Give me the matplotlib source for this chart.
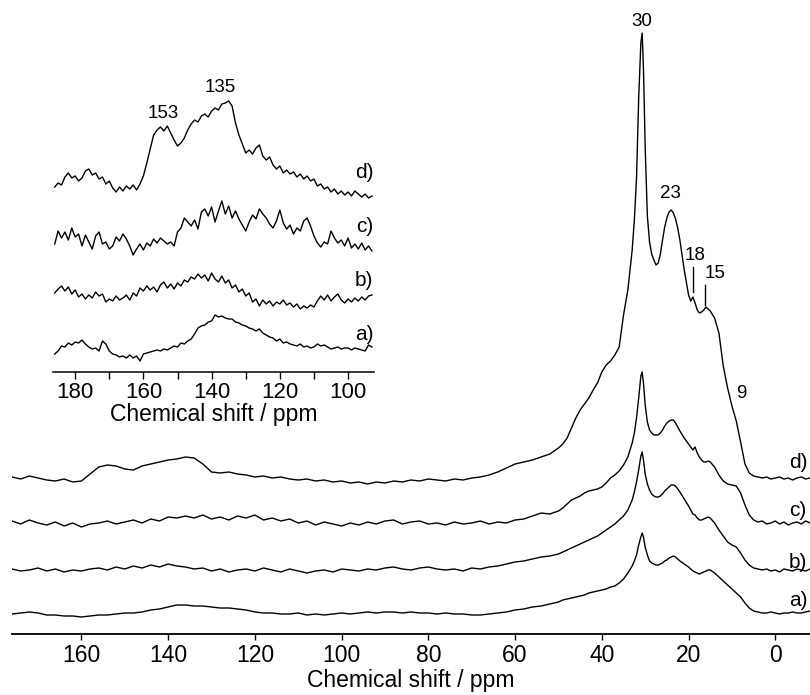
import numpy as np
import matplotlib
matplotlib.use("Agg")
import matplotlib.pyplot as plt

plt.rcParams['font.family'] = ['Liberation Sans', 'DejaVu Sans']

# ---- main spectra: chemical shift grid (ppm) ----
ppm_base = [176, 174, 172, 170, 168, 166, 164, 162, 160, 158,
            156, 154, 152, 150, 148, 146, 144, 142, 140, 138,
            136, 134, 132, 130, 128, 126, 124, 122, 120, 118,
            116, 114, 112, 110, 108, 106, 104, 102, 100, 98,
            96, 94, 92, 90, 88, 86, 84, 82, 80, 78,
            76, 74, 72, 70, 68, 66, 64, 62, 60, 58,
            56, 54, 52]
ppm_peak = [50, 49, 48, 47, 46, 45, 44, 43, 42, 41,
            40, 39, 38, 37, 36, 35, 34, 33,
            32.5, 32, 31.5, 31, 30.7, 30.4, 30, 29.5, 29, 28.5,
            28, 27.5, 27, 26.5, 26, 25.5, 25, 24.5, 24, 23.5,
            23, 22.5, 22,
            21, 20, 19.5, 19, 18.5, 18, 17.5, 17, 16.5, 16,
            15.5, 15,
            14, 13, 12, 11, 10, 9, 8, 7, 6, 5,
            4, 3, 2, 1, 0, -1, -2, -3, -4, -5,
            -6, -7, -8]

# intensities (arb. units)
d_base = [1, -1, 2, 0, -2, -3, -1, -4, -3, 4,
          11, 13, 12, 9, 8, 12, 14, 16, 18, 19,
          21, 20, 14, 6, 5, 6, 4, 3, 1, 2,
          0, 1, -1, -2, -1, -3, -2, -4, -3, -5,
          -4, -6, -4, -5, -3, -4, -2, -3, -1, -2,
          -3, -1, -2, 0, 1, 3, 6, 10, 14, 16,
          18, 21, 24]
d_peak = [30, 34, 40, 50, 60, 68, 74, 80, 88, 95,
          106, 113, 117, 123, 131, 163, 188, 228,
          258, 300, 380, 435, 445, 410, 330, 262, 236, 224,
          218, 213, 215, 224, 238, 251, 260, 266, 268, 265,
          259, 250, 238,
          208, 183, 177, 181, 175, 168, 165, 166, 168, 171,
          169, 167,
          160, 145, 112, 90, 72, 57, 36, 14, 5, 2,
          1, 0, 1, -1, 0, 1, -1, 0, -2, 0,
          1, -1, 0]

c_base = [2, -1, 3, 0, -2, 1, -3, 0, -4, -1,
          0, 2, -1, 1, 3, 0, 4, 2, 6, 5,
          7, 5, 8, 4, 6, 3, 7, 5, 8, 3,
          5, 2, 4, 0, 2, -2, 1, -1, -3, 0,
          -2, 1, -1, 2, 3, -1, 1, 2, -1, 0,
          -2, 1, -1, 0, 2, -1, 1, 0, 3, 4,
          7, 10, 9]
c_peak = [12, 15, 19, 23, 25, 27, 30, 32, 33, 34,
          36, 40, 45, 48, 52, 58, 66, 80,
          90, 105, 125, 147, 151, 140, 118, 101, 93, 90,
          88, 88, 88, 90, 93, 97, 100, 102, 103, 103,
          100, 96, 92,
          85, 79, 76, 73, 76, 70, 66, 63, 61, 61,
          62, 61,
          56, 48, 42, 39, 38, 37, 30, 18, 8, 3,
          1, 2, -1, 0, 2, -1, 1, -2, 0, 1,
          -1, 2, 0]

b_base = [1, -1, 0, 2, -1, 1, -2, 0, -1, 1,
          2, 0, 3, 1, 4, 2, 5, 3, 6, 4,
          3, 1, 2, -1, 1, -2, 0, 1, -1, 2,
          0, -2, 1, -1, -3, -1, 0, -2, 1, 0,
          -1, 1, 0, 2, 3, 1, 0, 2, 3, 1,
          0, 1, -1, 2, 1, 3, 4, 6, 8, 9,
          11, 13, 14]
b_peak = [16, 18, 20, 22, 24, 26, 28, 30, 32, 34,
          37, 40, 43, 46, 50, 54, 60, 70,
          78, 88, 100, 114, 118, 110, 96, 86, 80, 76,
          74, 73, 73, 74, 76, 79, 81, 83, 85, 85,
          84, 81, 78,
          71, 64, 60, 56, 55, 52, 50, 50, 51, 52,
          53, 52,
          47, 40, 34, 28, 25, 23, 17, 10, 5, 2,
          1, 0, 1, -1, 0, -2, 1, 0, -1, 1,
          0, -1, 1]

a_base = [-1, 0, 1, 0, -2, -2, -3, -3, -4, -3,
          -2, -2, -1, 0, 0, 1, 3, 4, 6, 8,
          8, 7, 7, 6, 5, 5, 4, 3, 1, 0,
          0, -1, -1, 0, -2, -1, -2, -1, 0, -1,
          0, 1, 0, 1, 1, 0, 1, 0, 0, -1,
          0, -1, -1, -2, -2, -1, 0, 1, 3, 4,
          6, 7, 9]
a_peak = [11, 13, 14, 15, 16, 17, 18, 20, 21, 22,
          23, 24, 26, 27, 30, 34, 40, 47,
          52, 58, 68, 76, 80, 76, 66, 58, 52, 50,
          49, 48, 48, 49, 50, 52, 53, 55, 56, 57,
          56, 54, 52,
          49, 46, 44, 42, 41, 40, 39, 40, 41, 42,
          43, 43,
          40, 36, 32, 28, 24, 20, 16, 10, 5, 2,
          1, 0, 0, 1, 0, -1, 0, 0, 1, 0,
          0, 1, 2]

main_labels = ["a)", "b)", "c)", "d)"]

# ---- inset: 186-93 ppm, expanded ----
ppm_inset = [186, 185, 184, 183, 182, 181, 180, 179, 178, 177,
             176, 175, 174, 173, 172, 171, 170, 169, 168, 167,
             166, 165, 164, 163, 162, 161, 160, 159, 158, 157,
             156, 155, 154, 153, 152, 151, 150, 149, 148, 147,
             146, 145, 144, 143, 142, 141, 140, 139, 138, 137,
             136, 135, 134, 133, 132, 131, 130, 129, 128, 127,
             126, 125, 124, 123, 122, 121, 120, 119, 118, 117,
             116, 115, 114, 113, 112, 111, 110, 109, 108, 107,
             106, 105, 104, 103, 102, 101, 100, 99, 98, 97,
             96, 95, 94, 93]
d_inset = [3, 7, 5, 13, 17, 12, 14, 9, 12, 19,
           21, 15, 17, 11, 13, 6, 9, 2, -2, 3,
           -1, 4, 1, 5, 0, 6, 14, 27, 41, 55,
           60, 63, 59, 64, 57, 50, 44, 47, 52, 60,
           66, 70, 68, 74, 76, 73, 79, 82, 80, 86,
           87, 89, 84, 67, 55, 46, 37, 40, 36, 42,
           45, 34, 30, 33, 25, 21, 24, 17, 20, 16,
           18, 13, 16, 11, 14, 9, 11, 4, 6, 1,
           3, -2, 1, -4, -1, -5, -2, -6, -1, -4,
           -7, -4, -8, -6]
c_inset = [-4, 9, 2, 8, 0, 12, 3, 6, -6, 5,
           -2, -9, 4, 8, -4, -2, -9, -6, 3, -1,
           6, 1, -6, -15, -9, -4, -10, -3, -6, 1,
           -3, 2, -1, -4, -2, -6, 8, 12, 22, 18,
           14, 20, 11, 28, 31, 24, 33, 18, 29, 39,
           26, 34, 22, 29, 21, 15, 9, 18, 25, 21,
           31, 26, 22, 16, 12, 19, 30, 17, 11, 15,
           6, 12, 9, 19, 22, 14, 4, -3, -7, -2,
           -4, 9, 2, -3, 0, -6, 2, -8, -4, -9,
           -3, -10, -6, -11]
b_inset = [4, 8, 11, 6, 10, 3, 7, 0, 3, -2,
           2, -1, 5, 1, 3, -5, -2, -4, 1, -3,
           -1, 2, -3, 4, 1, 9, 6, 11, 7, 10,
           5, 12, 15, 9, 13, 8, 14, 11, 17, 15,
           20, 18, 23, 19, 22, 16, 24, 18, 15, 21,
           14, 17, 9, 12, 5, 8, 1, 4, -5, -2,
           -9, -3, -7, -4, -9, -5, -7, -3, -8, -6,
           -10, -7, -12, -9, -11, -8, -10, -4, 1, -3,
           2, -4, 0, 3, -3, -6, -2, -5, -1, -4,
           0, -3, 1, 2]
a_inset = [-4, -1, 4, 3, 7, 5, 8, 7, 10, 6,
           3, 1, 2, -1, 9, 6, -1, -4, -5, -7,
           -6, -8, -5, -8, -6, -11, -4, -3, -2, -1,
           0, -1, 1, 0, 2, 4, 3, 7, 6, 9,
           11, 16, 22, 24, 25, 28, 29, 35, 33, 34,
           32, 31, 31, 28, 27, 25, 24, 22, 21, 19,
           21, 17, 15, 13, 12, 9, 11, 7, 8, 6,
           5, 4, 6, 3, 4, 2, 3, 6, 4, 5,
           3, 1, 2, 3, 1, 2, 2, 0, 2, 1,
           0, -1, 5, 3]

peak_labels = ["30", "23", "18", "15", "9"]
inset_peak_labels = ["153", "135"]

# vertical stacking (px-like units)
main_offsets = [21, 64, 111, 156]
inset_offsets = [22, 75, 132, 182]

fig = plt.figure(figsize=(8.1, 6.95), dpi=100)

ax = fig.add_axes([12 / 810, 61 / 695, 798 / 810, 634 / 695])
ppm_main = ppm_base + ppm_peak
spectra = [a_base + a_peak, b_base + b_peak, c_base + c_peak, d_base + d_peak]
for spec, off, lab, ly in zip(spectra, main_offsets, main_labels, [34, 72, 124, 171]):
    ax.plot(ppm_main, np.array(spec) + off, color="black", lw=1.0)
    ax.text(-3.2, ly, lab, fontsize=15, ha="left", va="center")

ax.set_xlim(176, -8)
ax.set_ylim(0, 634)
for s in ["left", "right", "top"]:
    ax.spines[s].set_visible(False)
ax.spines["bottom"].set_linewidth(1.3)
ax.set_yticks([])
ax.set_xticks([160, 140, 120, 100, 80, 60, 40, 20, 0])
ax.tick_params(axis="x", direction="out", length=4, width=1, labelsize=16.5, pad=3)
ax.set_xlabel("Chemical shift / ppm", fontsize=16.5, labelpad=2)
ax.patch.set_alpha(0)

# peak assignments on spectrum d)
ax.text(30.9, 613, peak_labels[0], fontsize=13.5, ha="center", va="center")
ax.text(24.2, 441, peak_labels[1], fontsize=13.5, ha="center", va="center")
ax.text(18.5, 379, peak_labels[2], fontsize=13.5, ha="center", va="center")
ax.text(13.8, 361, peak_labels[3], fontsize=13.5, ha="center", va="center")
ax.text(7.8, 241, peak_labels[4], fontsize=13.5, ha="center", va="center")
ax.plot([18.9, 18.9], [342, 367], color="black", lw=1.0)
ax.plot([16.1, 16.1], [329, 349], color="black", lw=1.0)

# inset
ax2 = fig.add_axes([53 / 810, 323 / 695, 321 / 810, 292 / 695])
inset_specs = [a_inset, b_inset, c_inset, d_inset]
for spec, off, lab, ly in zip(inset_specs, inset_offsets, main_labels, [37, 92, 145, 199]):
    ax2.plot(ppm_inset, np.array(spec) + off, color="black", lw=1.0)
    ax2.text(92.6, ly, lab, fontsize=15, ha="right", va="center")
ax2.set_xlim(186.5, 92.4)
ax2.set_ylim(0, 292)
for s in ["left", "right", "top"]:
    ax2.spines[s].set_visible(False)
ax2.spines["bottom"].set_linewidth(1.1)
ax2.set_yticks([])
ax2.set_xticks([180, 160, 140, 120, 100])
ax2.set_xticks([170, 150, 130, 110], minor=True)
ax2.tick_params(axis="x", which="both", direction="out", length=5, width=1, labelsize=16, pad=2)
ax2.set_xlabel("Chemical shift / ppm", fontsize=16.5, labelpad=0)
ax2.patch.set_alpha(0)
ax2.text(154.3, 259, inset_peak_labels[0], fontsize=13.5, ha="center", va="center")
ax2.text(137.6, 285, inset_peak_labels[1], fontsize=13.5, ha="center", va="center")

fig.savefig("out.png", dpi=100)
